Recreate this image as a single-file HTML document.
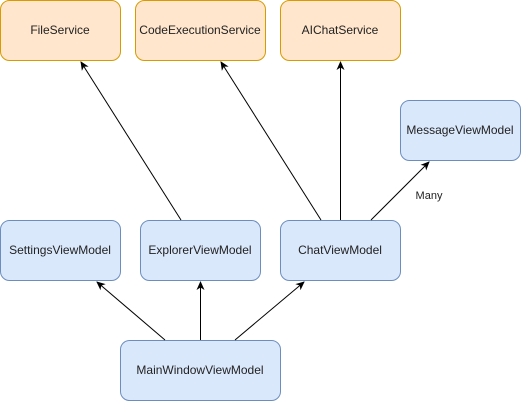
<!DOCTYPE html>
<html><head><style>
body{margin:0;background:#fff;width:521px;height:402px;overflow:hidden}
svg text{font-family:"Liberation Sans",sans-serif;font-size:12px;fill:#222}
</style></head><body>
<svg width="521" height="402" viewBox="0 0 521 402">
<defs><marker id="a" markerWidth="10" markerHeight="10" refX="8" refY="5" orient="auto" markerUnits="userSpaceOnUse"><path d="M0,1 L9,5 L0,9 L2.5,5 Z" fill="#000"/></marker></defs>
<g stroke="#d79b00" fill="#ffe6cc">
<rect x="0.5" y="0.5" width="120" height="60" rx="9"/>
<rect x="135.5" y="0.5" width="130" height="60" rx="9"/>
<rect x="280.5" y="0.5" width="120" height="60" rx="9"/>
</g>
<g stroke="#6c8ebf" fill="#dae8fc">
<rect x="400.5" y="100.5" width="120" height="60" rx="9"/>
<rect x="0.5" y="220.5" width="120" height="60" rx="9"/>
<rect x="140.5" y="220.5" width="120" height="60" rx="9"/>
<rect x="280.5" y="220.5" width="120" height="60" rx="9"/>
<rect x="120.5" y="340.5" width="160" height="60" rx="9"/>
</g>
<g stroke="#000" stroke-width="1" marker-end="url(#a)">
<line x1="181" y1="220" x2="81" y2="62"/>
<line x1="321" y1="220" x2="221" y2="62"/>
<line x1="340.5" y1="220" x2="340.5" y2="62"/>
<line x1="371" y1="220" x2="429" y2="162"/>
<line x1="165" y1="340" x2="97" y2="282"/>
<line x1="200.5" y1="340" x2="200.5" y2="282"/>
<line x1="235" y1="340" x2="304" y2="282"/>
</g>
<g text-anchor="middle">
<text x="60" y="34">FileService</text>
<text x="200" y="34">CodeExecutionService</text>
<text x="340" y="34">AIChatService</text>
<text x="460" y="134">MessageViewModel</text>
<text x="60" y="254">SettingsViewModel</text>
<text x="200" y="254">ExplorerViewModel</text>
<text x="340" y="254">ChatViewModel</text>
<text x="200" y="374">MainWindowViewModel</text>
<text x="429" y="199" style="font-size:11px">Many</text>
</g>
</svg>
</body></html>
